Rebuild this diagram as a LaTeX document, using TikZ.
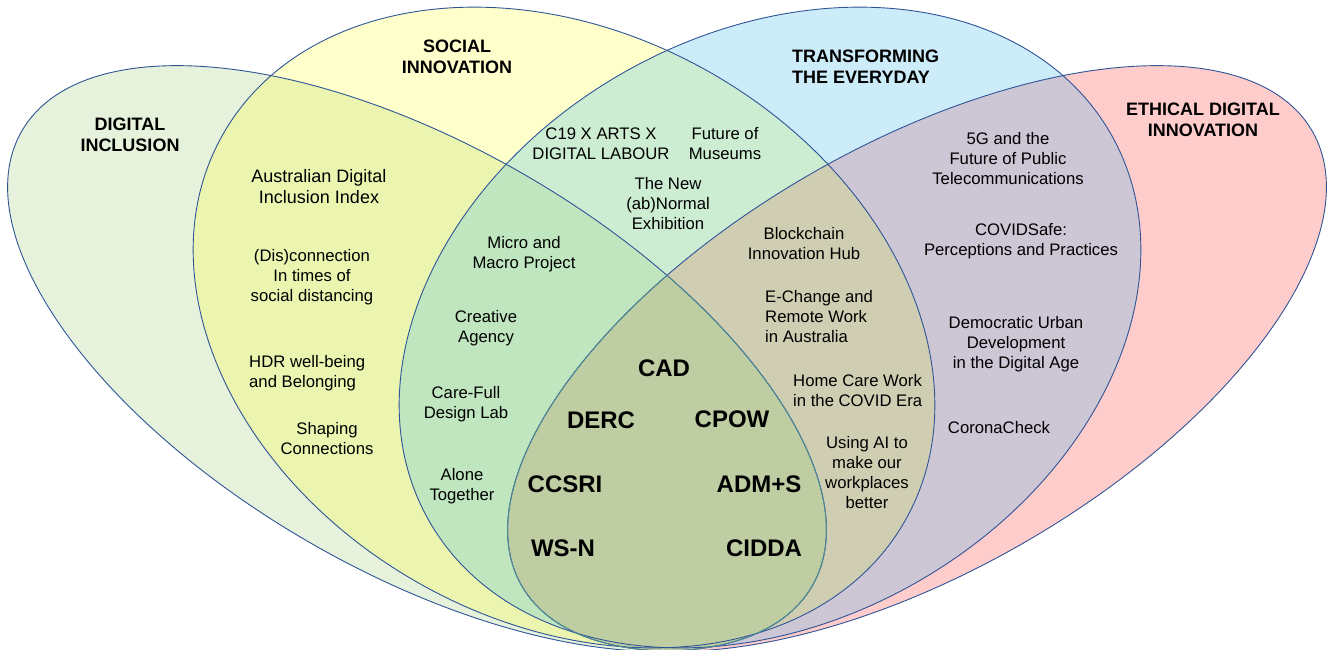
\documentclass[tikz,border=0pt]{standalone}
\usepackage{fontspec}
\setmainfont{Liberation Sans}
\begin{document}
\begin{tikzpicture}[x=1pt,y=1pt]
\definecolor{cDI}{HTML}{E6F2DB}
\definecolor{cSI}{HTML}{FFFFCC}
\definecolor{cTE}{HTML}{CCECF9}
\definecolor{cED}{HTML}{FFCCCC}
\definecolor{cDISI}{HTML}{EBF5B0}
\definecolor{cSITE}{HTML}{CDEDD3}
\definecolor{cDST}{HTML}{BFE6BE}
\definecolor{cTEED}{HTML}{CCC6D5}
\definecolor{cSTE}{HTML}{CFCEB2}
\definecolor{cAll}{HTML}{BFCDA3}
\definecolor{cLine}{HTML}{2F5597}
\definecolor{cTeal}{HTML}{4C8A94}
\tikzset{
  rotDI/.style={rotate around={-29.9:(417,-358.5)}},
  rotSI/.style={rotate around={-29.4:(564,-327.5)}},
  rotTE/.style={rotate around={29.4:(770,-327.5)}},
  rotED/.style={rotate around={29.9:(917,-358.5)}},
  outl/.style={draw=cLine, line width=0.9pt},
  lab/.style={font=\fontsize{16.7}{20}\selectfont, align=center, inner sep=0pt, text=black},
  ttl/.style={font=\bfseries\fontsize{18}{20.5}\selectfont, align=center, inner sep=0pt, text=black},
  big/.style={font=\bfseries\fontsize{24}{28}\selectfont, inner sep=0pt, text=black}
}
\def\pDI{(417,-358.5) ellipse [x radius=456, y radius=213]}
\def\pSI{(564,-327.5) ellipse [x radius=392, y radius=294]}
\def\pTE{(770,-327.5) ellipse [x radius=392, y radius=294]}
\def\pED{(917,-358.5) ellipse [x radius=456, y radius=213]}
\useasboundingbox (0,0) rectangle (1329,-649);
\begin{scope}
\clip (0,0) rectangle (1329,-649);
% base fills
\fill[cDI, rotDI] \pDI;
\fill[cSI, rotSI] \pSI;
\fill[cTE, rotTE] \pTE;
\fill[cED, rotED] \pED;
% intersections
\begin{scope}
  \clip[rotSI] \pSI;
  \fill[cDISI, rotDI] \pDI;
  \fill[cSITE, rotTE] \pTE;
  \begin{scope}
    \clip[rotTE] \pTE;
    \fill[cDST, rotDI] \pDI;
    \fill[cSTE, rotED] \pED;
  \end{scope}
\end{scope}
\begin{scope}
  \clip[rotTE] \pTE;
  \clip[rotED] \pED;
  \clip (0,0) rectangle (1329,-649);
  \path[rotSI] \pSI;
\end{scope}
\begin{scope}
  \clip[rotTE] \pTE;
  \begin{scope}
    \clip[rotED] \pED;
    \fill[cTEED] (0,0) rectangle (1329,-649);
  \end{scope}
  \begin{scope}
    \clip[rotSI] \pSI;
    \fill[cSTE, rotED] \pED;
  \end{scope}
\end{scope}
\begin{scope}
  \clip[rotED] \pED;
  \fill[cAll, rotDI] \pDI;
\end{scope}
% outlines
\draw[outl, rotDI] \pDI;
\draw[outl, rotSI] \pSI;
\draw[outl, rotTE] \pTE;
\draw[outl, rotED] \pED;
\begin{scope}
  \clip[rotED] \pED;
  \draw[draw=cTeal, line width=0.9pt, rotDI] \pDI;
\end{scope}
\begin{scope}
  \clip[rotDI] \pDI;
  \draw[draw=cTeal, line width=0.9pt, rotED] \pED;
\end{scope}
\end{scope}
% titles
\node[ttl] (tDI) at (130,-135) {DIGITAL\\INCLUSION};
\node[ttl] (tSI) at (457,-57) {SOCIAL\\INNOVATION};
\node[ttl, align=left, anchor=west] (tTE) at (792,-66.5) {TRANSFORMING\\THE EVERYDAY};
\node[ttl] (tED) at (1203,-120) {ETHICAL DIGITAL\\INNOVATION};
% labels
\node[lab, font=\fontsize{18}{21}\selectfont] (adii) at (319,-187) {Australian Digital\\Inclusion Index};
\node[lab] (disc) at (312,-277) {(Dis)connection\\In times of\\social distancing};
\node[lab, align=left, anchor=west] (hdr) at (249,-373) {HDR well-being\\and Belonging};
\node[lab] (shap) at (327,-439) {Shaping\\Connections};
\node[lab] (c19) at (601,-144) {C19 X ARTS X\\DIGITAL LABOUR};
\node[lab] (fom) at (725,-144) {Future of\\Museums};
\node[lab] (tnae) at (668,-204) {The New\\(ab)Normal\\Exhibition};
\node[lab] (mmp) at (524,-254) {Micro and\\Macro Project};
\node[lab] (crag) at (486,-328) {Creative\\Agency};
\node[lab] (cfdl) at (466,-404) {Care-Full\\Design Lab};
\node[lab] (alto) at (462,-486) {Alone\\Together};
\node[lab] (bih) at (804,-244) {Blockchain\\Innovation Hub};
\node[lab, align=left, anchor=west] (echg) at (765,-316.5) {E-Change and\\Remote Work\\in Australia};
\node[lab, align=left, anchor=west] (hcw) at (793,-391) {Home Care Work\\in the COVID Era};
\node[lab] (uai) at (867,-473) {Using AI to\\make our\\workplaces\\better};
\node[lab] (fiveg) at (1008,-159) {5G and the\\Future of Public\\Telecommunications};
\node[lab] (cvs) at (1021,-241) {COVIDSafe:\\Perceptions and Practices};
\node[lab] (dud) at (1016,-344) {Democratic Urban\\Development\\in the Digital Age};
\node[lab] (crc) at (999,-428) {CoronaCheck};
% centre
\node[big] (cad) at (664,-368) {CAD};
\node[big] (derc) at (601,-420) {DERC};
\node[big] (cpow) at (732,-419) {CPOW};
\node[big] (ccsri) at (565,-484) {CCSRI};
\node[big] (adms) at (759,-484) {ADM+S};
\node[big] (wsn) at (563,-548) {WS-N};
\node[big] (cidda) at (764,-548) {CIDDA};
\end{tikzpicture}
\end{document}
